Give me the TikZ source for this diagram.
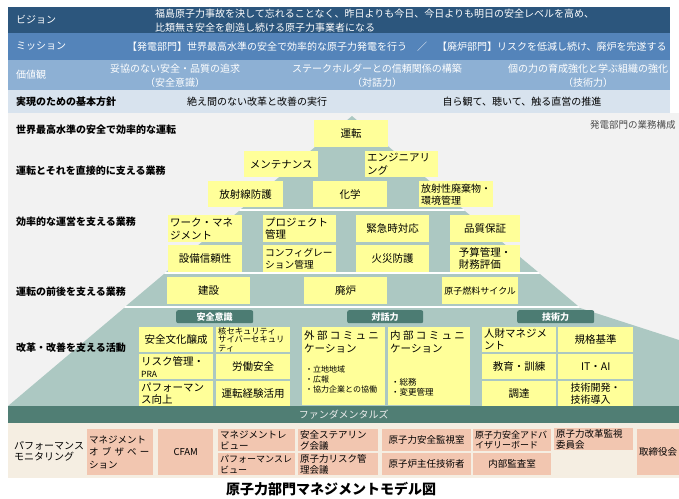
\documentclass[tikz,border=0pt]{standalone}
\usepackage{fontspec}
\setmainfont{Noto Sans CJK JP}
\usetikzlibrary{positioning}
\definecolor{visionblue}{RGB}{44,86,125}
\definecolor{missionblue}{RGB}{84,132,186}
\definecolor{valueblue}{RGB}{141,176,212}
\definecolor{policyblue}{RGB}{216,227,238}
\definecolor{pyramidgreen}{RGB}{172,200,194}
\definecolor{tabgreen}{RGB}{76,124,115}
\definecolor{fundgreen}{RGB}{80,126,116}
\definecolor{boxyellow}{RGB}{255,255,153}
\definecolor{monbeige}{RGB}{245,238,226}
\definecolor{monsalmon}{RGB}{242,198,176}
\definecolor{bggrey}{RGB}{242,242,242}
\newcommand{\jfs}[2]{\fontsize{#1}{#2}\selectfont}

\begin{document}
\begin{tikzpicture}[x=1pt, y=-1pt,
    band/.style={anchor=north west, inner sep=0pt, minimum width=662pt},
    bandtext/.style={text=white, inner sep=0pt, font=\jfs{10}{13.5}},
    level/.style={anchor=west, inner sep=0pt, font=\jfs{10}{12}\bfseries},
    ybox/.style={fill=boxyellow, anchor=north west, inner xsep=2pt, inner ysep=0pt, align=center, font=\jfs{10.5}{12.5}},
    tabbox/.style={fill=tabgreen, text=white, anchor=north west, inner sep=0pt, minimum height=13pt, rounded corners=2pt, font=\jfs{9}{10}\bfseries},
    sbox/.style={fill=monsalmon, anchor=north west, inner xsep=2pt, inner ysep=0pt, align=left, font=\jfs{9.5}{10.5}}
]
\useasboundingbox (0,0) rectangle (679,498);

% Vision / mission / values / policy bands
\node[band, fill=visionblue, minimum height=26pt] (vision) at (8,7) {};
\node[band, fill=missionblue, minimum height=27pt] (mission) at (8,33) {};
\node[band, fill=valueblue, minimum height=30pt] (values) at (8,60) {};
\node[band, fill=policyblue, minimum height=23pt] (policy) at (8,90) {};

\node[bandtext, anchor=west] (visionlbl) at (16,20) {ビジョン};
\node[bandtext, anchor=west, align=left] (visiontxt) at (155,20.5) {福島原子力事故を決して忘れることなく、昨日よりも今日、今日よりも明日の安全レベルを高め、\\比類無き安全を創造し続ける原子力事業者になる};
\node[bandtext, anchor=west] (missionlbl) at (16,46.5) {ミッション};
\node[bandtext, anchor=west] (missiontxt) at (127,46.5) {【発電部門】世界最高水準の安全で効率的な原子力発電を行う　／　【廃炉部門】リスクを低減し続け、廃炉を完遂する};
\node[bandtext, anchor=west] (valueslbl) at (16,75) {価値観};
\node[bandtext, align=center, font=\jfs{10}{14}] (value1) at (175,76) {妥協のない安全・品質の追求\\（安全意識）};
\node[bandtext, align=center, font=\jfs{10}{14}] (value2) at (377,76) {ステークホルダーとの信頼関係の構築\\（対話力）};
\node[bandtext, align=center, font=\jfs{10}{14}] (value3) at (588,76) {個の力の育成強化と学ぶ組織の強化\\（技術力）};
\node[level] (policylbl) at (16,102) {実現のための基本方針};
\node[inner sep=0pt, font=\jfs{10}{12}] (policy1) at (257,102) {絶え間のない改革と改善の実行};
\node[inner sep=0pt, font=\jfs{10}{12}] (policy2) at (522,102) {自ら観て、聴いて、触る直営の推進};

% Background and pyramid
\fill[bggrey] (8,113) rectangle (679,423);
\fill[pyramidgreen] (352,116) -- (463,209) -- (241,209) -- cycle;
\fill[pyramidgreen] (239,211) -- (465,211) -- (538,272) -- (166,272) -- cycle;
\fill[pyramidgreen] (164,274) -- (540,274) -- (578,306) -- (126,306) -- cycle;
\fill[pyramidgreen] (124,308) -- (580,308) -- (679,340) -- (679,406) -- (8,406) -- cycle;
\draw[white, line width=1.5pt] (240,210) -- (464,210);
\draw[white, line width=1.5pt] (165,273) -- (539,273);
\draw[white, line width=1.5pt] (125,307) -- (579,307);

% Level labels
\node[level] (lvl1) at (16,130) {世界最高水準の安全で効率的な運転};
\node[level] (lvl2) at (16,171) {運転とそれを直接的に支える業務};
\node[level] (lvl3) at (16,222) {効率的な運営を支える業務};
\node[level] (lvl4) at (16,292) {運転の前後を支える業務};
\node[level] (lvl5) at (16,348) {改革・改善を支える活動};
\node[anchor=west, inner sep=0pt, text=black!70, font=\jfs{9.5}{12}] (pagehead) at (590,125) {発電部門の業務構成};

% Operation and direct support
\node[ybox, text width=70pt, minimum height=27pt] (unten) at (314,120) {運転};
\node[ybox, text width=70pt, minimum height=26pt] (maint) at (244,151) {メンテナンス};
\node[ybox, text width=69pt, minimum height=26pt, align=left] (eng) at (365,151) {エンジニアリ\\ング};
\node[ybox, text width=71pt, minimum height=26pt] (radprot) at (208,181) {放射線防護};
\node[ybox, text width=70pt, minimum height=26pt] (chem) at (313,181) {化学};
\node[ybox, text width=70pt, minimum height=26pt, align=left, font=\jfs{10}{12}] (waste) at (419,181) {放射性廃棄物・\\環境管理};

% Efficient management
\node[ybox, text width=70pt, minimum height=27pt, align=left] (workmgmt) at (168,215) {ワーク・マネ\\ジメント};
\node[ybox, text width=70pt, minimum height=27pt] (equip) at (168,245) {設備信頼性};
\node[ybox, text width=69pt, minimum height=27pt, align=left] (project) at (263,215) {プロジェクト\\管理};
\node[ybox, text width=69pt, minimum height=27pt, align=left, font=\jfs{9.7}{12}] (config) at (263,245) {コンフィグレー\\ション管理};
\node[ybox, text width=69pt, minimum height=27pt] (emerg) at (356,215) {緊急時対応};
\node[ybox, text width=69pt, minimum height=27pt] (fire) at (356,245) {火災防護};
\node[ybox, text width=66pt, minimum height=27pt] (quality) at (450,215) {品質保証};
\node[ybox, text width=66pt, minimum height=27pt] (budget) at (450,245) {予算管理・\\財務評価\phantom{・}};

% Before and after operation
\node[ybox, text width=79pt, minimum height=27pt] (construct) at (167,277) {建設};
\node[ybox, text width=79pt, minimum height=27pt] (decom) at (304,277) {廃炉};
\node[ybox, text width=72pt, minimum height=27pt, font=\jfs{9}{11}] (fuel) at (442,277) {原子燃料サイクル};

% Reform and improvement
\node[tabbox, minimum width=77pt] (tabsafety) at (176,310) {安全意識};
\node[tabbox, minimum width=76pt] (tabdialog) at (347,310) {対話力};
\node[tabbox, minimum width=77pt] (tabtech) at (517,310) {技術力};

\node[ybox, text width=70pt, minimum height=25pt] (culture) at (139,327) {安全文化醸成};
\node[ybox, text width=70pt, minimum height=25pt, align=left, font=\jfs{8.3}{8.4}] (security) at (216,327) {核セキュリティ\\サイバーセキュリ\\ティ};
\node[ybox, text width=70pt, minimum height=25pt, align=left, font=\jfs{10.5}{12}] (risk) at (139,354) {リスク管理・\\{\jfs{8.5}{10}PRA}};
\node[ybox, text width=70pt, minimum height=25pt] (laborsafe) at (216,354) {労働安全};
\node[ybox, text width=70pt, minimum height=25pt, align=left, font=\jfs{10.5}{12}] (perfup) at (139,381) {パフォーマン\\ス向上};
\node[ybox, text width=70pt, minimum height=25pt] (opexp) at (216,381) {運転経験活用};

\node[ybox, text width=79pt, minimum height=78pt] (extcomm) at (302,327) {};
\node[anchor=north west, align=left, inner sep=0pt, font=\jfs{10.5}{13}] (exthead) at (304,330) {外 部 コ ミ ュ ニ\\ケーション};
\node[anchor=north west, align=left, inner sep=0pt, font=\jfs{8}{9.7}] (extlist) at (305,366) {・立地地域\\・広報\\・協力企業との協働};
\node[ybox, text width=78pt, minimum height=78pt] (intcomm) at (388,327) {};
\node[anchor=north west, align=left, inner sep=0pt, font=\jfs{10.5}{13}] (inthead) at (390,330) {内 部 コ ミ ュ ニ\\ケーション};
\node[anchor=north west, align=left, inner sep=0pt, font=\jfs{8.5}{9.7}] (intlist) at (391,378) {・総務\\・変更管理};

\node[ybox, text width=70pt, minimum height=25pt, align=left, font=\jfs{10.5}{12}] (humanres) at (482,327) {人財マネジメ\\ント};
\node[ybox, text width=71pt, minimum height=25pt] (standards) at (558,327) {規格基準};
\node[ybox, text width=70pt, minimum height=25pt] (training) at (482,354) {教育・訓練};
\node[ybox, text width=71pt, minimum height=25pt] (itai) at (558,354) {IT・AI};
\node[ybox, text width=70pt, minimum height=25pt] (procure) at (482,381) {調達};
\node[ybox, text width=71pt, minimum height=25pt, font=\jfs{10}{12}] (techdev) at (558,381) {技術開発・\\技術導入\phantom{・}};

% Fundamentals
\node[fill=fundgreen, anchor=north west, minimum width=671pt, minimum height=17pt, inner sep=0pt, text=black!8, font=\jfs{10}{12}] (fundbar) at (8,406) {ファンダメンタルズ};

% Performance monitoring
\fill[monbeige] (8,423) rectangle (679,478);
\node[anchor=west, align=left, inner sep=0pt, font=\jfs{10}{11}] (perfmon) at (14,451) {パフォーマンス\\モニタリング};
\node[sbox, text width=62pt, minimum height=46pt, font=\jfs{9.5}{12.5}] (mgmtobs) at (87,429) {マネジメント\\オ ブ ザ ベ ー\\ション};
\node[sbox, text width=51pt, minimum height=46pt, align=center] (cfam) at (158,429) {CFAM};
\node[sbox, text width=73pt, minimum height=22pt] (mreview) at (218,429) {マネジメントレ\\ビュー};
\node[sbox, text width=73pt, minimum height=22pt, font=\jfs{9}{10.5}] (preview) at (218,453) {パフォーマンスレ\\ビュー};
\node[sbox, text width=76pt, minimum height=22pt] (steering) at (298,429) {安全ステアリン\\グ会議};
\node[sbox, text width=76pt, minimum height=22pt] (riskmtg) at (298,453) {原子力リスク管\\理会議};
\node[sbox, text width=85pt, minimum height=22pt, align=center] (oversight) at (382,429) {原子力安全監視室};
\node[sbox, text width=85pt, minimum height=22pt, align=center] (chiefeng) at (382,453) {原子炉主任技術者};
\node[sbox, text width=74pt, minimum height=22pt, font=\jfs{9}{10.5}] (advisory) at (473,429) {原子力安全アドバ\\イザリーボード};
\node[sbox, text width=74pt, minimum height=22pt, align=center] (audit) at (473,453) {内部監査室};
\node[sbox, text width=75pt, minimum height=22pt] (reformcmt) at (554,428) {原子力改革監視\\委員会};
\node[sbox, text width=38pt, minimum height=46pt, align=center] (board) at (637,429) {取締役会};

% Title
\node[inner sep=0pt, font=\jfs{14}{16}\bfseries] (title) at (331,489) {原子力部門マネジメントモデル図};

\end{tikzpicture}
\end{document}
